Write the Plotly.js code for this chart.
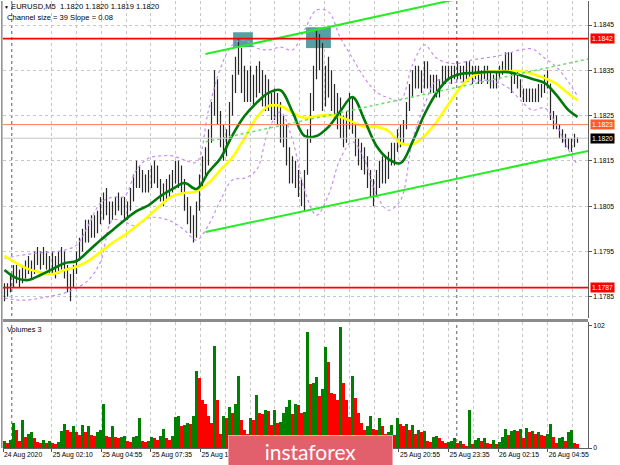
<!DOCTYPE html>
<html><head><meta charset="utf-8">
<script src="https://cdn.plot.ly/plotly-3.0.1.min.js"></script>
<style>html,body{margin:0;padding:0;background:#fff}#chart{width:620px;height:465px}</style>
</head><body><div id="chart"></div>
<script>
// EURUSD M5 bars (each sample = 10 min)
const high = [
1.1788,1.1788,1.1790,1.1792,1.1792,1.1791,1.1792,1.1793,1.1794,1.1793,
1.1795,1.1796,1.1795,1.1796,1.1795,1.1794,1.1795,1.1794,1.1795,1.1796,
1.1795,1.1792,1.1790,1.1792,1.1795,1.1798,1.1800,1.1802,1.1802,1.1803,
1.1803,1.1804,1.1807,1.1808,1.1809,1.1806,1.1806,1.1807,1.1808,1.1807,
1.1807,1.1806,1.1809,1.1812,1.1815,1.1814,1.1813,1.1812,1.1813,1.1814,
1.1815,1.1814,1.1811,1.1810,1.1811,1.1812,1.1813,1.1815,1.1815,1.1814,
1.1811,1.1807,1.1805,1.1803,1.1806,1.1812,1.1816,1.1818,1.1822,1.1828,
1.1835,1.1833,1.1826,1.1823,1.1822,1.1828,1.1834,1.1838,1.1842,1.1840,
1.1836,1.1835,1.1836,1.1834,1.1836,1.1837,1.1835,1.1834,1.1833,1.1830,
1.1831,1.1830,1.1828,1.1825,1.1823,1.1818,1.1816,1.1815,1.1813,1.1811,
1.1813,1.1822,1.1830,1.1836,1.1844,1.1843,1.1841,1.1836,1.1838,1.1835,
1.1832,1.1830,1.1829,1.1825,1.1826,1.1830,1.1829,1.1823,1.1820,1.1819,
1.1818,1.1816,1.1813,1.1811,1.1813,1.1815,1.1816,1.1816,1.1817,1.1819,
1.1819,1.1822,1.1823,1.1824,1.1828,1.1832,1.1835,1.1836,1.1836,1.1835,
1.1837,1.1837,1.1834,1.1834,1.1834,1.1833,1.1836,1.1836,1.1836,1.1836,
1.1836,1.1837,1.1836,1.1836,1.1837,1.1837,1.1836,1.1836,1.1836,1.1835,
1.1836,1.1836,1.1835,1.1834,1.1835,1.1836,1.1837,1.1839,1.1839,1.1839,
1.1835,1.1835,1.1833,1.1831,1.1831,1.1831,1.1831,1.1831,1.1832,1.1832,
1.1834,1.1835,1.1832,1.1826,1.1825,1.1823,1.1822,1.1821,1.1820,1.1820,
1.1821,1.1820];
const low = [
1.1784,1.1785,1.1786,1.1787,1.1788,1.1787,1.1788,1.1789,1.1790,1.1789,
1.1790,1.1792,1.1791,1.1792,1.1791,1.1790,1.1790,1.1789,1.1790,1.1791,
1.1789,1.1786,1.1784,1.1787,1.1790,1.1793,1.1795,1.1797,1.1797,1.1798,
1.1798,1.1799,1.1801,1.1802,1.1803,1.1801,1.1802,1.1803,1.1804,1.1803,
1.1802,1.1802,1.1804,1.1806,1.1809,1.1809,1.1808,1.1808,1.1808,1.1809,
1.1810,1.1809,1.1806,1.1805,1.1806,1.1807,1.1808,1.1810,1.1809,1.1808,
1.1804,1.1801,1.1799,1.1797,1.1798,1.1804,1.1809,1.1811,1.1814,1.1819,
1.1825,1.1823,1.1818,1.1815,1.1816,1.1819,1.1825,1.1830,1.1834,1.1830,
1.1828,1.1828,1.1828,1.1827,1.1829,1.1830,1.1827,1.1826,1.1826,1.1824,
1.1824,1.1823,1.1819,1.1818,1.1814,1.1810,1.1810,1.1809,1.1807,1.1805,
1.1804,1.1812,1.1819,1.1826,1.1833,1.1835,1.1826,1.1827,1.1829,1.1826,
1.1824,1.1822,1.1820,1.1818,1.1819,1.1822,1.1821,1.1816,1.1814,1.1813,
1.1812,1.1809,1.1807,1.1805,1.1807,1.1809,1.1810,1.1810,1.1811,1.1814,
1.1814,1.1817,1.1818,1.1819,1.1822,1.1826,1.1829,1.1831,1.1831,1.1830,
1.1831,1.1831,1.1830,1.1830,1.1829,1.1829,1.1832,1.1832,1.1833,1.1832,
1.1833,1.1833,1.1833,1.1832,1.1833,1.1833,1.1832,1.1833,1.1832,1.1832,
1.1833,1.1832,1.1831,1.1831,1.1831,1.1833,1.1834,1.1835,1.1835,1.1830,
1.1832,1.1831,1.1829,1.1828,1.1828,1.1828,1.1828,1.1828,1.1828,1.1829,
1.1830,1.1831,1.1824,1.1822,1.1822,1.1820,1.1819,1.1818,1.18175,1.1817,
1.1818,1.1819];
const close = [
1.1786,1.1787,1.1789,1.1790,1.1789,1.1790,1.1791,1.1792,1.1791,1.1792,
1.1794,1.1793,1.1794,1.1793,1.1792,1.1793,1.1791,1.1792,1.1793,1.1794,
1.1790,1.1788,1.1789,1.1791,1.1794,1.1797,1.1799,1.1800,1.1801,1.1800,
1.1802,1.1803,1.1805,1.1806,1.1804,1.1803,1.1805,1.1806,1.1805,1.1806,
1.1804,1.1805,1.1808,1.1811,1.1813,1.1811,1.1810,1.1811,1.1810,1.1813,
1.1812,1.1810,1.1808,1.1808,1.1809,1.1810,1.1812,1.1813,1.1811,1.1809,
1.1805,1.1803,1.1801,1.1800,1.1805,1.1811,1.1814,1.1816,1.1820,1.1826,
1.1830,1.1825,1.1820,1.1818,1.1820,1.1826,1.1832,1.1836,1.1838,1.1833,
1.1830,1.1833,1.1831,1.1832,1.1834,1.1832,1.1829,1.1831,1.1828,1.1826,
1.1829,1.1825,1.1822,1.1820,1.1816,1.1813,1.1814,1.1811,1.1809,1.1807,
1.1812,1.1820,1.1828,1.1834,1.1840,1.1838,1.1830,1.1833,1.1832,1.1828,
1.1826,1.1827,1.1822,1.1823,1.1824,1.1826,1.1823,1.1818,1.1816,1.1815,
1.1814,1.1811,1.1809,1.1808,1.1811,1.1812,1.1813,1.1814,1.1815,1.1816,
1.1818,1.1820,1.1822,1.1823,1.1827,1.1831,1.1833,1.1834,1.1832,1.1833,
1.1835,1.1833,1.1831,1.1832,1.1830,1.1832,1.1834,1.1835,1.1834,1.1835,
1.1834,1.1835,1.1834,1.1835,1.1836,1.1834,1.1835,1.1834,1.1833,1.1834,
1.1835,1.1833,1.1832,1.1833,1.1834,1.1835,1.1836,1.1837,1.1838,1.1833,
1.1834,1.1832,1.1830,1.1829,1.1830,1.1829,1.1830,1.1829,1.1830,1.1831,
1.1833,1.1832,1.1825,1.1824,1.1823,1.1821,1.1820,1.1819,1.1819,1.1819,
1.1820,1.1820];
const firstOpen = 1.1786;
const volume = [
6,4,7,21,15,6,23,9,12,13,
8,5,4,7,4,6,4,3,5,14,
20,15,13,18,13,11,19,13,18,11,
10,13,15,37,10,9,18,9,8,9,
10,6,5,9,10,25,6,5,6,9,
8,7,10,16,8,7,10,26,27,18,
19,21,20,27,64,58,40,37,27,21,
85,40,12,27,25,34,29,37,60,23,
15,12,25,23,44,29,28,32,31,19,
32,21,22,29,34,40,28,37,36,29,
30,97,53,54,59,43,49,84,72,46,
45,40,101,54,40,26,60,42,29,21,
15,18,27,16,15,25,18,12,13,19,
11,25,20,18,20,15,19,12,15,13,
14,6,5,9,10,8,6,4,5,6,
8,4,6,3,2,32,3,7,8,6,
8,4,3,7,3,5,9,16,11,14,
15,14,16,8,17,13,14,12,13,11,
10,12,20,9,4,8,9,6,13,15,
4,3];

// indicator lines, sampled at these bar positions
const maIdx = [0,4,8,12,16,20,24,28,32,36,40,44,48,52,56,60,64,68,72,76,80,84,88,92,96,100,104,108,112,116,120,124,128,132,136,140,144,148,152,156,160,164,168,172,176,180,184,188,191];
const maGreen = [
1.17909,1.17891,1.17887,1.17898,1.17911,1.17924,1.17929,1.17951,1.17975,1.17997,
1.18019,1.18039,1.18052,1.18072,1.18088,1.18101,1.18088,1.18125,1.18156,1.18207,
1.18249,1.18278,1.18300,1.18306,1.18258,1.18205,1.18205,1.18225,1.18260,1.18291,
1.18240,1.18183,1.18154,1.18145,1.18192,1.18253,1.18300,1.18331,1.18342,1.18344,
1.18346,1.18346,1.18346,1.18339,1.18331,1.18322,1.18295,1.18262,1.18247];
const maYellow = [
1.17940,1.17924,1.17911,1.17904,1.17900,1.17909,1.17916,1.17929,1.17949,1.17969,
1.17986,1.18006,1.18028,1.18052,1.18072,1.18079,1.18083,1.18101,1.18130,1.18158,
1.18200,1.18245,1.18271,1.18271,1.18256,1.18245,1.18249,1.18251,1.18247,1.18236,
1.18225,1.18225,1.18216,1.18189,1.18187,1.18205,1.18236,1.18275,1.18313,1.18337,
1.18346,1.18348,1.18348,1.18348,1.18342,1.18333,1.18320,1.18298,1.18284];
const bandUpper = [
1.17935,1.17940,1.17944,1.17947,1.17949,1.17953,1.17964,1.18008,1.18057,1.18070,
1.18072,1.18130,1.18156,1.18161,1.18161,1.18152,1.18147,1.18262,1.18355,1.18406,
1.18417,1.18399,1.18395,1.18401,1.18395,1.18439,1.18483,1.18479,1.18421,1.18377,
1.18333,1.18302,1.18289,1.18284,1.18362,1.18406,1.18377,1.18366,1.18366,1.18373,
1.18377,1.18381,1.18388,1.18395,1.18397,1.18377,1.18357,1.18324,1.18293];
const bandLower = [
1.17847,1.17843,1.17843,1.17847,1.17852,1.17858,1.17869,1.17887,1.17927,1.18019,
1.18015,1.18006,1.18024,1.18024,1.18015,1.17997,1.17975,1.18008,1.18063,1.18108,
1.18112,1.18130,1.18218,1.18258,1.18196,1.18086,1.18030,1.18075,1.18156,1.18192,
1.18152,1.18075,1.18041,1.18063,1.18196,1.18273,1.18328,1.18322,1.18324,1.18326,
1.18328,1.18324,1.18311,1.18284,1.18262,1.18267,1.18229,1.18174,1.18141];

// regression channel end points
const chanUpperIdx = [67, 152];
const chanUpperVal = [1.18386, 1.18509];
const chanMidIdx = [67, 194.5];
const chanMidVal = [1.18192, 1.18375];
const chanLowIdx = [67, 194.5];
const chanLowVal = [1.17993, 1.18172];

// highlighted zones (bar range, price range)
const zoneStart = [76.2, 100.5];
const zoneEnd = [82.8, 108.8];
const zoneLow = [1.18401, 1.18399];
const zoneHigh = [1.18434, 1.18445];

// horizontal levels
const levelValues = [1.1842, 1.1823, 1.1820, 1.1787];
const levelColors = ['#ff0000', '#ff5a2c', '#000000', '#ff0000'];
const levelLineColors = ['#ff0000', '#ff7a55', '#c4c4c4', '#ff0000'];
const levelWidths = [1.6, 1, 1, 1.6];

const priceTicks = [1.1785, 1.1795, 1.1805, 1.1815, 1.1825, 1.1835, 1.1845];
const volumeTicks = [0, 102];
// visible time labels (the ones under the logo are hidden in the reference)
const timeTickIdx = [-0.5, 15.73, 32.27, 48.8, 65.33, 131.47, 148, 164.53, 181.07];
const timeTickText = ['24 Aug 2020','25 Aug 02:10','25 Aug 04:55','25 Aug 07:35','25 Aug 10:20','25 Aug 20:55','25 Aug 23:35','26 Aug 02:15','26 Aug 04:55'];
const midGridIdx = [24.0, 40.53, 57.07, 73.6, 81.87, 90.13, 98.4, 106.67, 114.93, 123.2, 139.73, 156.27, 172.8, 189.33];
const daySeparators = [2.4, 150.73];

const idx = close.map((_, i) => i);
const open = close.map((_, i) => i === 0 ? firstOpen : close[i - 1]);
const volColors = volume.map((v, i) => (i === 0 || v > volume[i - 1]) ? '#008000' : '#ff0000');

const FONT = 'Liberation Sans, Arial, DejaVu Sans, sans-serif';

const traces = [
  {type:'ohlc', x:idx, open:open, high:high, low:low, close:close, xaxis:'x', yaxis:'y',
   increasing:{line:{color:'#262626', width:1.2}}, decreasing:{line:{color:'#262626', width:1.2}},
   tickwidth:0.2, hoverinfo:'skip'},
  {type:'scatter', mode:'lines', x:maIdx, y:bandUpper, line:{color:'#c48ff0', width:1.2, dash:'dot', shape:'spline'}, hoverinfo:'skip'},
  {type:'scatter', mode:'lines', x:maIdx, y:bandLower, line:{color:'#c48ff0', width:1.2, dash:'dot', shape:'spline'}, hoverinfo:'skip'},
  {type:'scatter', mode:'lines', x:maIdx, y:maYellow, line:{color:'#ffff00', width:2.6, shape:'spline'}, hoverinfo:'skip'},
  {type:'scatter', mode:'lines', x:maIdx, y:maGreen, line:{color:'#00780a', width:2.6, shape:'spline'}, hoverinfo:'skip'},
  {type:'scatter', mode:'lines', x:chanUpperIdx, y:chanUpperVal, line:{color:'#22ee22', width:2}, hoverinfo:'skip'},
  {type:'scatter', mode:'lines', x:chanMidIdx, y:chanMidVal, line:{color:'#66e066', width:1.5, dash:'dot'}, hoverinfo:'skip'},
  {type:'scatter', mode:'lines', x:chanLowIdx, y:chanLowVal, line:{color:'#22ee22', width:2}, hoverinfo:'skip'},
  {type:'bar', x:idx, y:volume, xaxis:'x', yaxis:'y2', width:0.7, marker:{color:volColors, line:{width:0}}, hoverinfo:'skip'}
];

const shapes = [];
zoneStart.forEach((s, k) => shapes.push({type:'rect', xref:'x', yref:'y', x0:s, x1:zoneEnd[k], y0:zoneLow[k], y1:zoneHigh[k],
  fillcolor:'#5a9ea2', line:{width:0}, layer:'between'}));
levelValues.forEach((v, k) => shapes.push({type:'line', xref:'paper', yref:'y', x0:0, x1:1, y0:v, y1:v,
  line:{color:levelLineColors[k], width:levelWidths[k]}}));
daySeparators.forEach(d => shapes.push({type:'line', xref:'x', yref:'paper', x0:d, x1:d, y0:0, y1:1,
  line:{color:'#8a8a8a', width:1.4, dash:'dot'}, layer:'below'}));
shapes.push({type:'line', xref:'paper', yref:'paper', x0:0, x1:1, y0:0.2852, y1:0.2852, line:{color:'#8c8c8c', width:3}});
shapes.push({type:'line', xref:'paper', yref:'paper', x0:-0.002, x1:-0.002, y0:0, y1:1, line:{color:'#8c8c8c', width:1.5}});

const annotations = [];
levelValues.forEach((v, k) => annotations.push({xref:'paper', yref:'y', x:1, y:v, xanchor:'left', yanchor:'middle', xshift:2,
  text:v.toFixed(4), showarrow:false, bgcolor:levelColors[k], borderpad:1,
  font:{family:FONT, size:6.8, color:'#ffffff'}}));
annotations.push({xref:'paper', yref:'paper', x:-0.001, y:0.9877, xanchor:'left', yanchor:'middle', showarrow:false,
  text:'<span style="font-size:5px">▼</span> EURUSD,M5\u00a0 1.1820 1.1820 1.1819 1.1820', font:{family:FONT, size:7.6, color:'#000'}});
annotations.push({xref:'paper', yref:'paper', x:0.004, y:0.9631, xanchor:'left', yanchor:'middle', showarrow:false,
  text:'Channel size = 39 Slope = 0.08', font:{family:FONT, size:7.6, color:'#000'}});
annotations.push({xref:'paper', yref:'paper', x:0.004, y:0.2662, xanchor:'left', yanchor:'middle', showarrow:false,
  text:'Volumes 3', font:{family:FONT, size:7.4, color:'#000'}});
annotations.push({xref:'paper', yref:'paper', x:0.5256, y:-0.0067, xanchor:'center', yanchor:'middle', showarrow:false,
  text:'instaforex', width:163, height:30, bgcolor:'#e2606c', bordercolor:'#f3a4ac', borderwidth:1, borderpad:0,
  font:{family:'Lato, Open Sans, sans-serif', size:21, color:'#ffffff'}});

const layout = {
  width:620, height:465, margin:{l:3, r:32, t:1, b:17},
  paper_bgcolor:'#ffffff', plot_bgcolor:'#ffffff', showlegend:false,
  font:{family:FONT, size:7, color:'#000'},
  xaxis:{range:[-0.5, 194.5], anchor:'y2', tickmode:'array', tickvals:timeTickIdx, ticktext:timeTickText,
    ticks:'outside', ticklen:3, tickcolor:'#555', ticklabelposition:'outside right',
    tickfont:{family:FONT, size:6.8, color:'#000'},
    showgrid:true, gridcolor:'#c6c6c6', griddash:'dot', gridwidth:1,
    minor:{tickmode:'array', tickvals:midGridIdx, showgrid:true, gridcolor:'#c6c6c6', griddash:'dot', gridwidth:1, ticks:''},
    showline:true, linecolor:'#606060', linewidth:1, zeroline:false, rangeslider:{visible:false}, fixedrange:true},
  yaxis:{domain:[0.2908, 1], range:[1.17803, 1.18503], anchor:'x', side:'right', tickmode:'array', tickvals:priceTicks,
    ticktext:priceTicks.map(v => v.toFixed(4)), ticks:'outside', ticklen:3, tickcolor:'#555',
    tickfont:{family:FONT, size:6.8, color:'#000'},
    showgrid:true, gridcolor:'#c6c6c6', griddash:'dot', gridwidth:1,
    showline:true, linecolor:'#606060', linewidth:1, zeroline:false},
  yaxis2:{domain:[0, 0.2819], range:[0, 105], anchor:'x', side:'right', tickmode:'array', tickvals:volumeTicks,
    ticks:'outside', ticklen:3, tickcolor:'#555', tickfont:{family:FONT, size:6.8, color:'#000'},
    showgrid:false, showline:true, linecolor:'#606060', linewidth:1, zeroline:false},
  bargap:0,
  shapes:shapes,
  annotations:annotations
};

Plotly.newPlot('chart', traces, layout, {displayModeBar:false, staticPlot:true});
</script>
</body></html>
